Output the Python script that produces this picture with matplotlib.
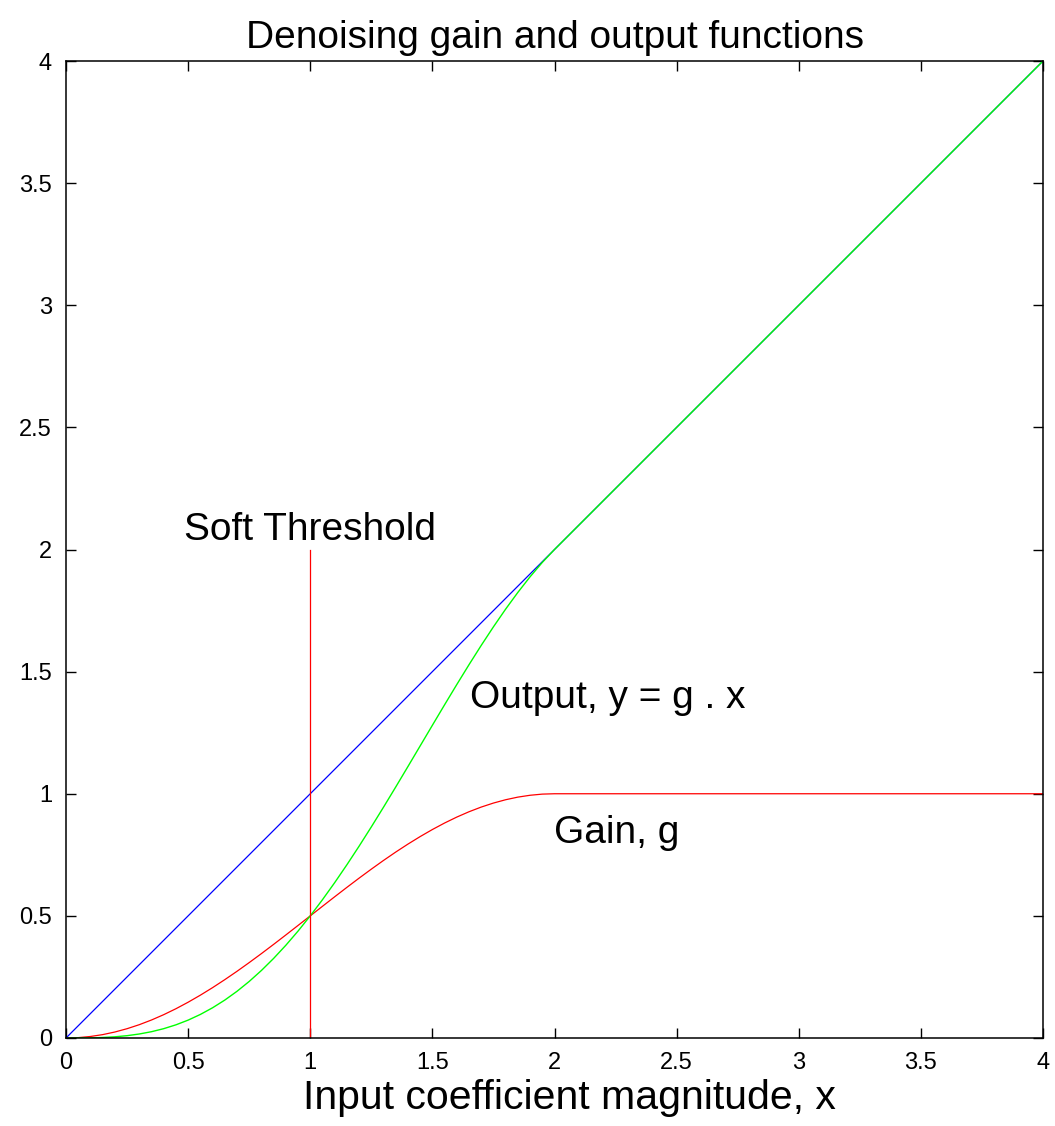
import matplotlib
matplotlib.use("Agg")
import matplotlib.pyplot as plt

plt.rcParams['font.family'] = ['Liberation Sans', 'DejaVu Sans']

# Input coefficient magnitude samples
x_vals = [0.0, 0.05, 0.1, 0.15, 0.2, 0.25, 0.3, 0.35, 0.4, 0.45, 0.5,
          0.55, 0.6, 0.65, 0.7, 0.75, 0.8, 0.85, 0.9, 0.95, 1.0,
          1.05, 1.1, 1.15, 1.2, 1.25, 1.3, 1.35, 1.4, 1.45, 1.5,
          1.55, 1.6, 1.65, 1.7, 1.75, 1.8, 1.85, 1.9, 1.95, 2.0, 4.0]
# Gain g
gain_vals = [0.0, 0.0015, 0.0062, 0.0138, 0.0245, 0.0381, 0.0545, 0.0737, 0.0955, 0.1198, 0.1465,
             0.1753, 0.2061, 0.2388, 0.2730, 0.3087, 0.3455, 0.3833, 0.4218, 0.4608, 0.5,
             0.5392, 0.5782, 0.6167, 0.6545, 0.6913, 0.7270, 0.7613, 0.7939, 0.8247, 0.8535,
             0.8802, 0.9045, 0.9263, 0.9455, 0.9619, 0.9755, 0.9862, 0.9938, 0.9985, 1.0, 1.0]
# Output y = g . x
output_vals = [0.0, 0.0001, 0.0006, 0.0021, 0.0049, 0.0095, 0.0164, 0.0258, 0.0382, 0.0539, 0.0732,
               0.0964, 0.1237, 0.1552, 0.1911, 0.2315, 0.2764, 0.3258, 0.3796, 0.4377, 0.5,
               0.5662, 0.6360, 0.7092, 0.7854, 0.8642, 0.9451, 1.0277, 1.1115, 1.1959, 1.2803,
               1.3643, 1.4472, 1.5284, 1.6074, 1.6834, 1.7560, 1.8244, 1.8883, 1.9470, 2.0, 4.0]
# Identity line
ident_x = [0.0, 4.0]
ident_y = [0.0, 4.0]
# Soft threshold marker
thresh_x = [1.0, 1.0]
thresh_y = [0.0, 2.0]

ticks = [0, 0.5, 1, 1.5, 2, 2.5, 3, 3.5, 4]
tick_labels = ['0', '0.5', '1', '1.5', '2', '2.5', '3', '3.5', '4']

fig = plt.figure(figsize=(10.55, 11.26), dpi=100)
ax = fig.add_axes([66/1055, 88/1126, 977/1055, 977/1126])

ax.plot(ident_x, ident_y, color=(0, 0, 1), lw=0.9)
ax.plot(x_vals, gain_vals, color=(1, 0, 0), lw=0.9)
ax.plot(x_vals, output_vals, color=(0, 1, 0), lw=1.0)
ax.plot(thresh_x, thresh_y, color=(1, 0, 0), lw=0.9)

ax.set_xlim(0, 4)
ax.set_ylim(0, 4)
ax.set_xticks(ticks)
ax.set_xticklabels(tick_labels)
ax.set_yticks(ticks)
ax.set_yticklabels(tick_labels)
ax.tick_params(direction='in', length=7, width=1, top=True, right=True,
               labelsize=17)
ax.tick_params(axis='y', pad=10)
ax.tick_params(axis='x', pad=10)
for s in ax.spines.values():
    s.set_linewidth(1.1)

ax.text(1.0, 2.04, 'Soft Threshold', ha='center', va='baseline', fontsize=28)
ax.text(1.654, 1.39, 'Output, y = g . x', ha='left', va='center', fontsize=28)
ax.text(2.0, 0.84, 'Gain, g', ha='left', va='center', fontsize=28)

ax.set_title('Denoising gain and output functions', fontsize=28, pad=9)
fig.text(569.5/1055, 17/1126, 'Input coefficient magnitude, x', fontsize=29.5,
         ha='center', va='baseline')

fig.savefig('out.png', dpi=100)
